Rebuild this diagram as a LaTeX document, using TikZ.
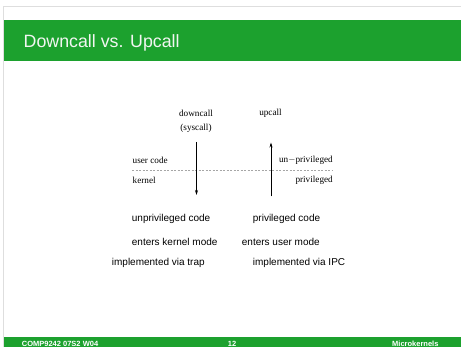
\documentclass[tikz,border=0pt]{standalone}
\usepackage{fontspec}
\setmainfont{Liberation Serif}
\setsansfont{Liberation Sans}
\usetikzlibrary{arrows.meta}
\definecolor{slidegreen}{RGB}{28,161,46}
\definecolor{frameline}{RGB}{222,222,222}
\definecolor{titletext}{RGB}{242,246,242}
\tikzset{
  diag/.style={font=\fontsize{9.2}{10}\selectfont\rmfamily, inner sep=0pt},
  body/.style={font=\fontsize{10}{12}\selectfont\sffamily, inner sep=0pt, anchor=west},
  foot/.style={font=\fontsize{7.5}{9}\selectfont\sffamily\bfseries, text=white, inner sep=0pt},
  callarrow/.style={line width=0.6pt, -{Stealth[length=5pt,width=3pt]}},
  boundary/.style={gray!70, line width=0.5pt, dash pattern=on 2pt off 1.5pt}
}
\begin{document}
\begin{tikzpicture}[x=1pt,y=-1pt]
\useasboundingbox (0,0) rectangle (461,347);
\fill[white] (0,0) rectangle (461,347);
% slide frame
\draw[frameline, line width=1.2pt] (3.5,347) -- (3.5,6.5) -- (461,6.5);
% title bar
\fill[slidegreen] (4,20) rectangle (461,61);
\node[anchor=west, inner sep=0pt, text=titletext, font=\fontsize{17.8}{20}\selectfont\sffamily] (title) at (23.5,43) {Downcall vs. Upcall};
% footer bar
\fill[slidegreen] (4,337) rectangle (461,347);
\node[foot, anchor=west] (course) at (21.7,343.5) {COMP9242 07S2 W04};
\node[foot] (page) at (232,343.5) {12};
\node[foot, anchor=east] (topic) at (438.7,343.5) {Microkernels};

% call labels
\node[diag] (down) at (196,113) {downcall};
\node[diag] (sys) at (196,128) {(syscall)};
\node[diag] (up) at (270.5,113) {upcall};

% privilege boundary
\coordinate (bl) at (132,170.7);
\coordinate (br) at (333,170.7);
\draw[boundary] (bl) -- (br);
\node[diag, anchor=west] (user) at (132.5,160.5) {user code};
\node[diag, anchor=west] (kern) at (132.5,180.5) {kernel};
\node[diag, anchor=east] (unpriv) at (333,160.5) {un\(-\)privileged};
\node[diag, anchor=east] (priv) at (333,180.5) {privileged};

% arrows
\coordinate (dtop) at (196.5,142);
\coordinate (dbot) at (196.5,195);
\coordinate (utop) at (271,142.5);
\coordinate (ubot) at (271,196.5);
\draw[callarrow] (dtop) -- (dbot);
\draw[callarrow] (ubot) -- (utop);

% properties
\node[body] (l1) at (131.7,219) {unprivileged code};
\node[body] (r1) at (252.7,219) {privileged code};
\node[body] (l2) at (131.7,241.7) {enters kernel mode};
\node[body] (r2) at (241.7,241.7) {enters user mode};
\node[body] (l3) at (111.7,263.3) {implemented via trap};
\node[body] (r3) at (252.7,263.3) {implemented via IPC};
\end{tikzpicture}
\end{document}
